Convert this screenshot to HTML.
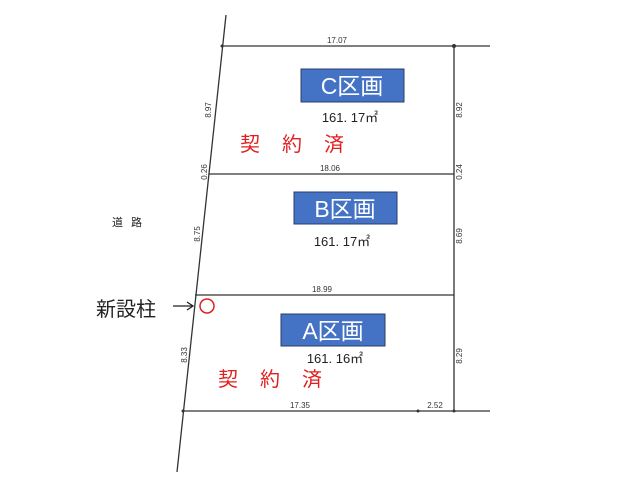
<!DOCTYPE html>
<html><head><meta charset="utf-8"><style>
body{margin:0;background:#fff;}
svg{display:block;}
.j{font-family:"Liberation Sans","Noto Sans CJK JP",sans-serif;}
</style></head><body>
<svg width="640" height="480" xmlns="http://www.w3.org/2000/svg" class="j">
<g stroke="#333" stroke-width="1.3" fill="none">
<line x1="226" y1="15" x2="177" y2="472"/>
<line x1="222" y1="46" x2="490" y2="46"/>
<line x1="454" y1="46" x2="454" y2="411"/>
<line x1="209" y1="174" x2="454" y2="174"/>
<line x1="195" y1="295" x2="454" y2="295"/>
<line x1="183" y1="411" x2="490" y2="411"/>
</g>
<g fill="#333"><circle cx="222" cy="46" r="1.5"/><circle cx="454" cy="46" r="2"/><circle cx="183" cy="411" r="1.5"/><circle cx="418" cy="411" r="1.5"/><circle cx="454" cy="411" r="1.5"/></g>
<g font-size="8" fill="#333" text-anchor="middle">
<text x="337" y="43">17.07</text>
<text x="330" y="171">18.06</text>
<text x="322" y="292">18.99</text>
<text x="300" y="408">17.35</text>
<text x="435" y="408">2.52</text>
<text transform="translate(211,110) rotate(-90)">8.97</text>
<text transform="translate(207,172) rotate(-90)">0.26</text>
<text transform="translate(200,234) rotate(-90)">8.75</text>
<text transform="translate(187,355) rotate(-90)">8.33</text>
<text transform="translate(462,110) rotate(-90)">8.92</text>
<text transform="translate(462,172) rotate(-90)">0.24</text>
<text transform="translate(462,236) rotate(-90)">8.69</text>
<text transform="translate(462,356) rotate(-90)">8.29</text>
</g>
<g fill="#4472c4" stroke="#2a3f6a" stroke-width="1">
<rect x="301" y="69" width="103" height="33"/>
<rect x="294" y="192" width="103" height="32"/>
<rect x="281" y="314" width="104" height="32"/>
</g>
<g fill="#fff" font-size="23" text-anchor="middle">
<text x="352" y="94">C区画</text>
<text x="345" y="217">B区画</text>
<text x="333" y="339">A区画</text>
</g>
<g fill="#222" font-size="13" text-anchor="middle">
<text x="350" y="122">161. 17㎡</text>
<text x="342" y="246">161. 17㎡</text>
<text x="335" y="363">161. 16㎡</text>
</g>
<g fill="#e02020" font-size="20">
<text x="240" y="151" letter-spacing="22">契約済</text>
<text x="218" y="386" letter-spacing="22">契約済</text>
</g>
<text x="112" y="226" font-size="11" fill="#222" letter-spacing="8">道路</text>
<text x="96" y="316" font-size="20" fill="#222">新設柱</text>
<line x1="173" y1="306" x2="192" y2="306" stroke="#222" stroke-width="1.3"/>
<path d="M187,302 L193,306 L187,310" stroke="#222" stroke-width="1.3" fill="none"/>
<circle cx="207" cy="306" r="7" fill="none" stroke="#e02020" stroke-width="1.5"/>
</svg>
</body></html>
